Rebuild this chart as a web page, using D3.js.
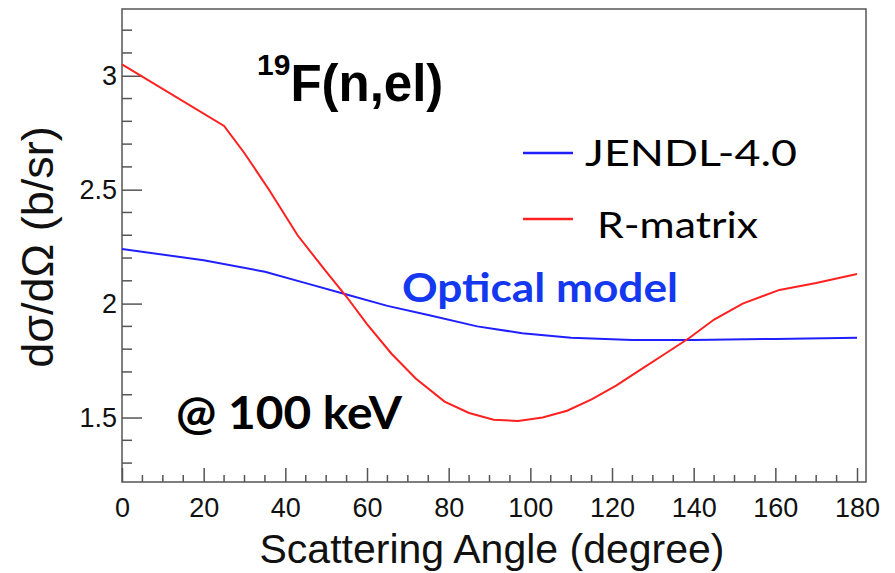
<!DOCTYPE html>
<html>
<head>
<meta charset="utf-8">
<script src="https://cdn.jsdelivr.net/npm/d3@7"></script>
<style>
  body { margin: 0; background: #fff; }
  svg { display: block; }
</style>
</head>
<body>
<svg id="chart"></svg>
<script>
/* CONSTANTS AND GLOBALS */
const width = 895,
  height = 573,
  margin = { left: 122, right: 29, top: 9, bottom: 91 };

/* DATA */
// R-matrix curve, angle in degrees, cross section in b/sr
const rAngle = [0, 25, 30, 36, 43, 50, 55, 60, 66, 72, 79, 85, 91, 97, 103, 109, 115, 121, 127, 133, 139, 145, 152, 161, 170, 180];
const rValue = [3.05, 2.78, 2.66, 2.50, 2.30, 2.14, 2.03, 1.91, 1.78, 1.67, 1.57, 1.52, 1.49, 1.485, 1.50, 1.53, 1.58, 1.64, 1.71, 1.78, 1.85, 1.93, 2.00, 2.06, 2.09, 2.13];
// JENDL-4.0 (optical model)
const jAngle = [0, 20, 35, 45, 55, 65, 75, 87, 98, 110, 125, 140, 160, 180];
const jValue = [2.24, 2.19, 2.14, 2.09, 2.04, 1.99, 1.95, 1.90, 1.87, 1.85, 1.84, 1.84, 1.845, 1.85];

const xTicks = [0, 20, 40, 60, 80, 100, 120, 140, 160, 180];
const yTicks = [1.5, 2, 2.5, 3];

const rData = rAngle.map((a, i) => ({ a, v: rValue[i] }));
const jData = jAngle.map((a, i) => ({ a, v: jValue[i] }));

/* SCALES */
// the frame runs a little past 180 degrees, as in the original plot
const xScale = d3.scaleLinear()
  .domain([0, 182.2])
  .range([margin.left, width - margin.right]);

const yScale = d3.scaleLinear()
  .domain([1.217, 3.293])
  .range([height - margin.bottom, margin.top]);

/* HTML ELEMENTS */
const svg = d3.select("#chart")
  .attr("width", width)
  .attr("height", height);

const axisColor = "#555";
const tickFont = "Liberation Sans, Arial, sans-serif";

// frame
svg.append("rect")
  .attr("x", margin.left)
  .attr("y", margin.top)
  .attr("width", width - margin.left - margin.right)
  .attr("height", height - margin.top - margin.bottom)
  .attr("fill", "none")
  .attr("stroke", axisColor)
  .attr("stroke-width", 1.5);

// x axis: major ticks every 20, minor every 5, drawn inward
const xAxis = d3.axisBottom(xScale).tickValues(xTicks).tickSize(-14).tickPadding(12).tickFormat(d3.format("d"));
const xG = svg.append("g")
  .attr("transform", `translate(0, ${height - margin.bottom})`)
  .call(xAxis);
xG.select(".domain").remove();
xG.selectAll(".tick line").attr("stroke", axisColor).attr("stroke-width", 1.5);
xG.selectAll(".tick text").attr("font-family", tickFont).attr("font-size", 27).attr("fill", "#111").attr("dy", "0.85em");

const xMinor = d3.range(0, 181, 5).filter(d => d % 20 !== 0);
svg.append("g").selectAll("line")
  .data(xMinor)
  .join("line")
  .attr("x1", d => xScale(d)).attr("x2", d => xScale(d))
  .attr("y1", height - margin.bottom).attr("y2", height - margin.bottom - 7)
  .attr("stroke", axisColor).attr("stroke-width", 1.5);

// y axis: major every 0.5, minor every 0.1
const yAxis = d3.axisLeft(yScale).tickValues(yTicks).tickSize(-20).tickPadding(5).tickFormat(d3.format("~g"));
const yG = svg.append("g")
  .attr("transform", `translate(${margin.left}, 0)`)
  .call(yAxis);
yG.select(".domain").remove();
yG.selectAll(".tick line").attr("stroke", axisColor).attr("stroke-width", 1.5);
yG.selectAll(".tick text").attr("font-family", tickFont).attr("font-size", 27).attr("fill", "#111");

const yMinor = d3.range(13, 33).map(d => d / 10).filter(d => Math.round(d * 10) % 5 !== 0);
svg.append("g").selectAll("line")
  .data(yMinor)
  .join("line")
  .attr("x1", margin.left).attr("x2", margin.left + 10)
  .attr("y1", d => yScale(d)).attr("y2", d => yScale(d))
  .attr("stroke", axisColor).attr("stroke-width", 1.5);

// axis titles
svg.append("text")
  .attr("x", 492).attr("y", 563)
  .attr("text-anchor", "middle")
  .attr("font-family", tickFont).attr("font-size", 41).attr("fill", "#111")
  .text("Scattering Angle (degree)");

svg.append("text")
  .attr("transform", "translate(53, 247) rotate(-90)")
  .attr("text-anchor", "middle")
  .attr("font-family", tickFont).attr("font-size", 45).attr("fill", "#111")
  .text("dσ/dΩ (b/sr)");

/* LINES */
const line = d3.line()
  .x(d => xScale(d.a))
  .y(d => yScale(d.v));

svg.append("path")
  .datum(jData)
  .attr("d", line)
  .attr("fill", "none")
  .attr("stroke", "#1f1fff")
  .attr("stroke-width", 2);

svg.append("path")
  .datum(rData)
  .attr("d", line)
  .attr("fill", "none")
  .attr("stroke", "#ff2020")
  .attr("stroke-width", 2);

/* ANNOTATIONS */
const title = svg.append("text")
  .attr("x", 257).attr("y", 101)
  .attr("font-family", tickFont).attr("font-weight", "bold").attr("fill", "#000");
title.append("tspan").attr("font-size", 30).attr("dy", -26).text("19");
title.append("tspan").attr("font-size", 51).attr("dy", 26).text("F(n,el)");

// legend
const legendFont = "Lato, Carlito, sans-serif";
const legend = [
  { label: "JENDL-4.0", color: "#1f1fff", y: 153, tx: 585, ty: 166, w: 212 },
  { label: "R-matrix", color: "#ff2020", y: 219, tx: 597, ty: 238, w: 161 }
];
legend.forEach(l => {
  svg.append("line")
    .attr("x1", 523).attr("x2", 573)
    .attr("y1", l.y).attr("y2", l.y)
    .attr("stroke", l.color).attr("stroke-width", 2.5);
  svg.append("text")
    .attr("x", l.tx).attr("y", l.ty)
    .attr("font-family", legendFont).attr("font-size", 37).attr("fill", "#000")
    .attr("textLength", l.w).attr("lengthAdjust", "spacingAndGlyphs")
    .text(l.label);
});

svg.append("text")
  .attr("x", 402).attr("y", 302)
  .attr("font-family", legendFont).attr("font-weight", "bold").attr("font-size", 40)
  .attr("textLength", 276).attr("lengthAdjust", "spacingAndGlyphs")
  .attr("fill", "#1438f0")
  .text("Optical model");

svg.append("text")
  .attr("x", 176).attr("y", 429)
  .attr("font-family", legendFont).attr("font-weight", "bold").attr("font-size", 45)
  .attr("textLength", 226).attr("lengthAdjust", "spacingAndGlyphs")
  .attr("fill", "#000")
  .text("@ 100 keV");
</script>
</body>
</html>
